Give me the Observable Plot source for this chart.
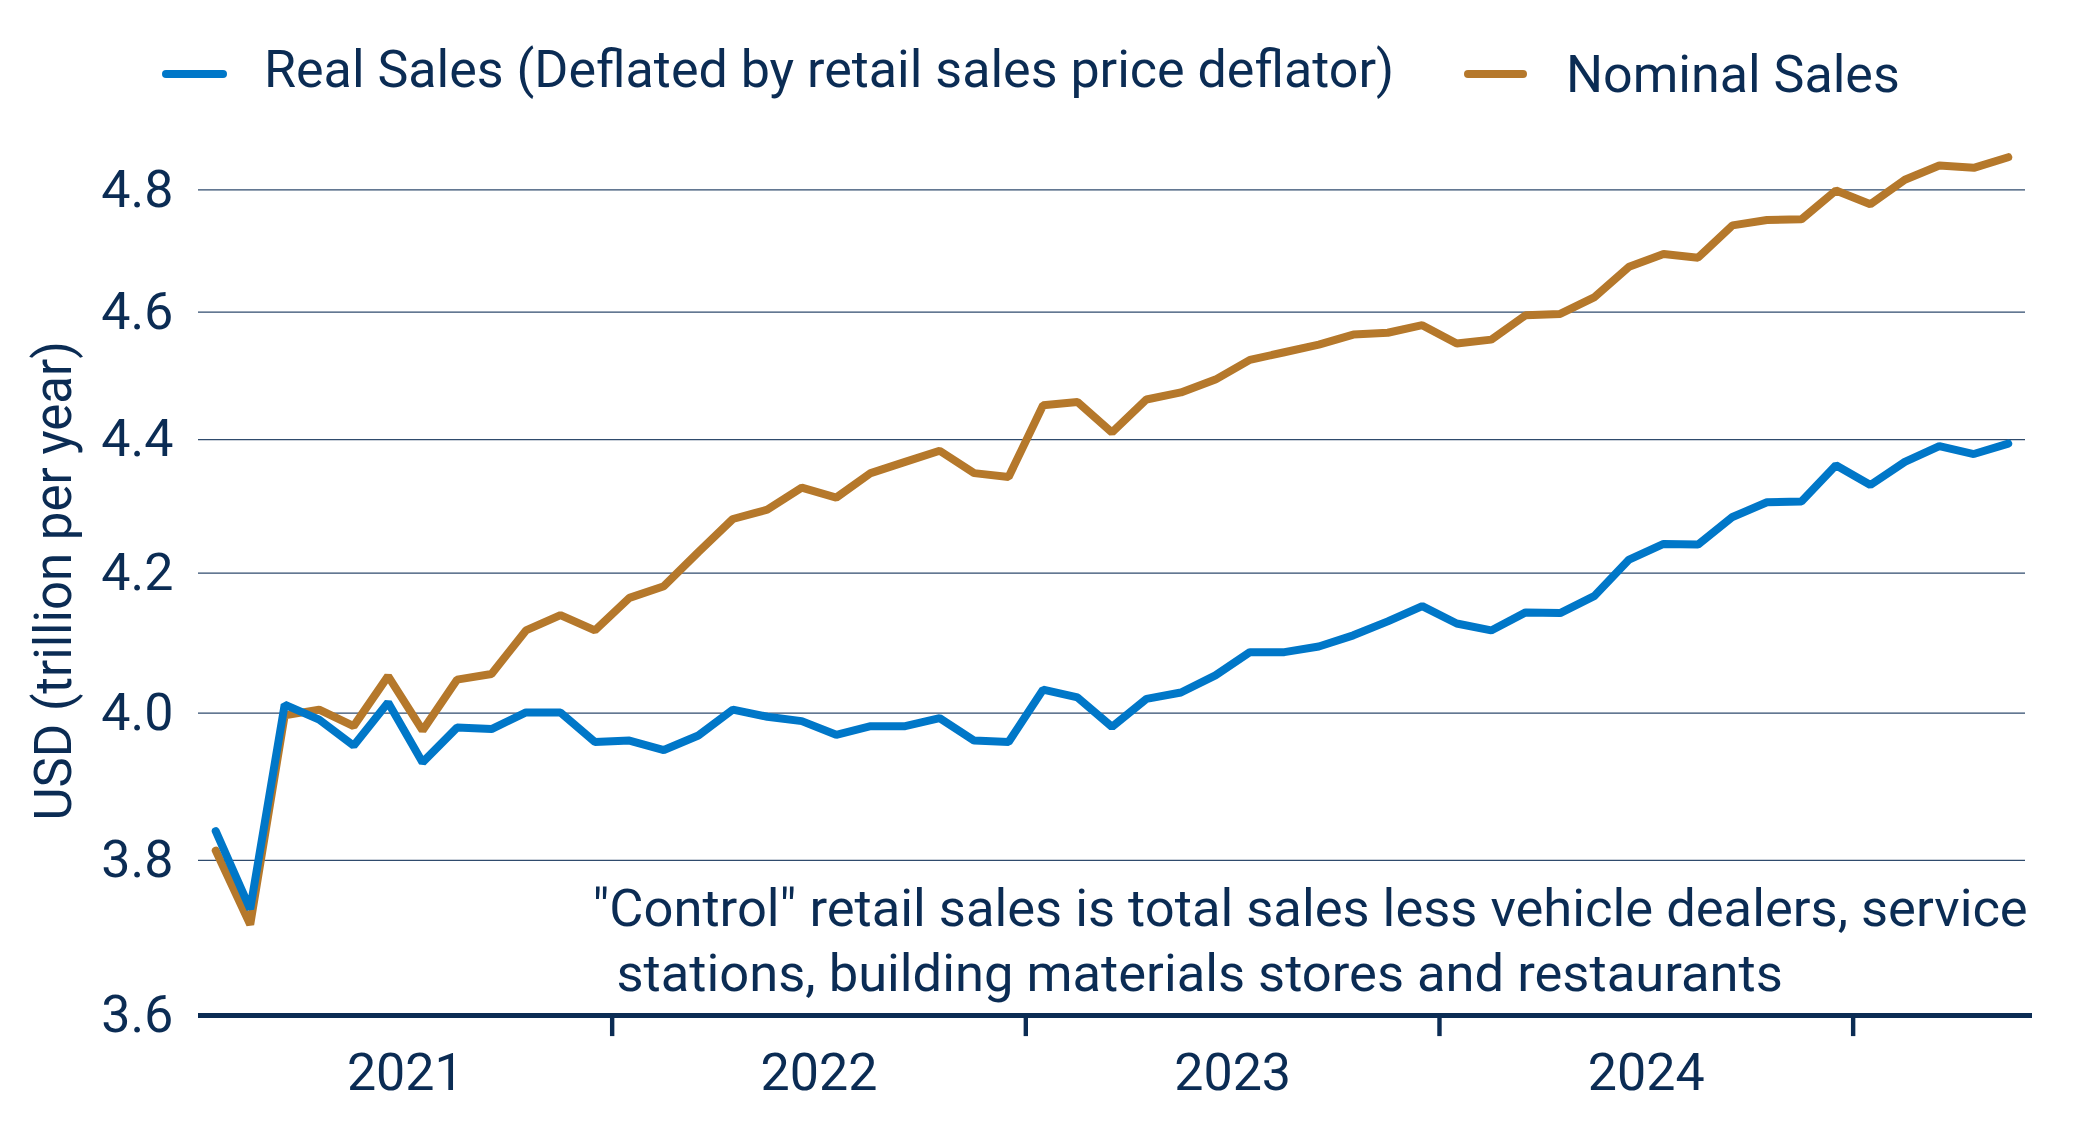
<!DOCTYPE html>
<html>
<head>
<meta charset="utf-8">
<script src="https://cdn.jsdelivr.net/npm/d3@7"></script>
<script src="https://cdn.jsdelivr.net/npm/@observablehq/plot@0.6"></script>
<style>
  html, body { margin: 0; padding: 0; background: #fff; }
  #wrap { width: 2084px; height: 1125px; position: relative; font-family: Roboto, "Noto Sans", sans-serif; color: #0b2c54; }
  #legend { position: relative; width: 2084px; height: 120px; }
  .sw { position: absolute; height: 8px; border-radius: 4px; }
  .lt { position: absolute; font-size: 52px; line-height: 1; white-space: nowrap; }
</style>
</head>
<body>
<div id="wrap">
  <div id="legend"></div>
  <div id="chart"></div>
</div>
<script>
// ---- data ----
const seriesNames = ["Real Sales (Deflated by retail sales price deflator)", "Nominal Sales"];
const seriesColors = ["#0077c8", "#b5782b"];
const years = ["2021", "2022", "2023", "2024"];
const realSales = [3.839, 3.736, 4.012, 3.991, 3.955, 4.015, 3.932, 3.980, 3.978, 4.001, 4.001, 3.960, 3.962,
  3.949, 3.969, 4.005, 3.995, 3.989, 3.970, 3.982, 3.982, 3.993, 3.962, 3.960, 4.033, 4.022, 3.981,
  4.020, 4.029, 4.053, 4.086, 4.086, 4.094, 4.110, 4.130, 4.152, 4.127, 4.117, 4.143, 4.142,
  4.167, 4.220, 4.243, 4.242, 4.283, 4.305, 4.306, 4.361, 4.331, 4.366, 4.390, 4.378, 4.394];
const nominalSales = [3.813, 3.716, 3.997, 4.005, 3.982, 4.052, 3.976, 4.047, 4.055, 4.117, 4.139, 4.117, 4.164,
  4.181, 4.231, 4.280, 4.294, 4.327, 4.312, 4.349, 4.366, 4.383, 4.349, 4.343, 4.453, 4.458, 4.411,
  4.462, 4.473, 4.493, 4.524, 4.536, 4.548, 4.564, 4.567, 4.579, 4.550, 4.556, 4.595, 4.597,
  4.624, 4.673, 4.694, 4.688, 4.741, 4.750, 4.751, 4.799, 4.776, 4.817, 4.841, 4.837, 4.855];
const yTicks = [3.6, 3.8, 4.0, 4.2, 4.4, 4.6, 4.8];
const yLabel = "USD (trillion per year)";
const note = ["\"Control\" retail sales is total sales less vehicle dealers, service",
              "stations, building materials stores and restaurants"];

const months = d3.utcMonth.range(new Date(Date.UTC(2021, 0, 1)), new Date(Date.UTC(2025, 5, 1)));
const nMonths = months.length; // 53
const toRows = (vals, name) => vals.map((v, i) => ({i: i + 0.5, month: months[i], v, name}));
const realRows = toRows(realSales, seriesNames[0]);
const nominalRows = toRows(nominalSales, seriesNames[1]);

// year ticks (boundaries) and label positions (mid-year)
const yearBounds = years.map((y, k) => 12 * (k + 1));
const yearMids = years.map((y, k) => 12 * k + 6);

const navy = "#0b2c54";

// ---- legend ----
const legend = document.getElementById("legend");
const legendLayout = [
  {sw: [162, 69.5, 65], txt: [264, 43.5]},
  {sw: [1464, 70, 63], txt: [1566, 48.5]}
];
seriesNames.forEach((name, k) => {
  const L = legendLayout[k];
  const sw = document.createElement("div");
  sw.className = "sw";
  sw.style.left = L.sw[0] + "px"; sw.style.top = L.sw[1] + "px"; sw.style.width = L.sw[2] + "px";
  sw.style.background = seriesColors[k];
  legend.appendChild(sw);
  const t = document.createElement("div");
  t.className = "lt";
  t.style.left = L.txt[0] + "px"; t.style.top = L.txt[1] + "px";
  t.textContent = name;
  legend.appendChild(t);
});

// ---- chart ----
const chart = Plot.plot({
  width: 2084,
  height: 1005,
  marginTop: 69.4,
  marginBottom: 109.9,
  marginLeft: 198,
  marginRight: 59,
  style: {fontFamily: "Roboto, 'Noto Sans', sans-serif", color: navy, background: "#fff", overflow: "visible"},
  x: {type: "linear", domain: [0, nMonths]},
  y: {type: "log", domain: [3.6, 4.8]},
  marks: [
    Plot.ruleY(yTicks.slice(1), {stroke: navy, strokeWidth: 1.3, strokeOpacity: 0.85}),
    Plot.axisY(yTicks, {tickSize: 0, tickPadding: 25, fontSize: 52, tickFormat: d3.format(".1f"), label: null, fill: navy}),
    Plot.text([yLabel], {frameAnchor: "left", rotate: -90, dx: -144, dy: -22, fontSize: 51, fill: navy, lineAnchor: "middle", textAnchor: "middle"}),
    Plot.axisX(yearBounds, {tickSize: 21, stroke: navy, strokeWidth: 4.4, fill: "none", tickFormat: () => "", label: null}),
    Plot.axisX(yearMids, {tickSize: 0, tickPadding: 37, fontSize: 52, fill: navy, tickFormat: (d) => years[yearMids.indexOf(d)], label: null}),
    Plot.ruleY([3.6], {stroke: navy, strokeWidth: 5, insetRight: -7}),
    Plot.line(nominalRows, {x: "i", y: "v", stroke: seriesColors[1], strokeWidth: 8, strokeLinejoin: "miter", strokeLinecap: "round"}),
    Plot.line(realRows, {x: "i", y: "v", stroke: seriesColors[0], strokeWidth: 8, strokeLinejoin: "miter", strokeLinecap: "round"}),
    Plot.text([note[0]], {frameAnchor: "bottom-left", dx: 394, dy: -89.3, textAnchor: "start", lineAnchor: "bottom", fontSize: 52.5, fill: navy}),
    Plot.text([note[1]], {frameAnchor: "bottom-left", dx: 418, dy: -24.5, textAnchor: "start", lineAnchor: "bottom", fontSize: 52.5, fill: navy})
  ]
});
document.getElementById("chart").appendChild(chart);
</script>
</body>
</html>
